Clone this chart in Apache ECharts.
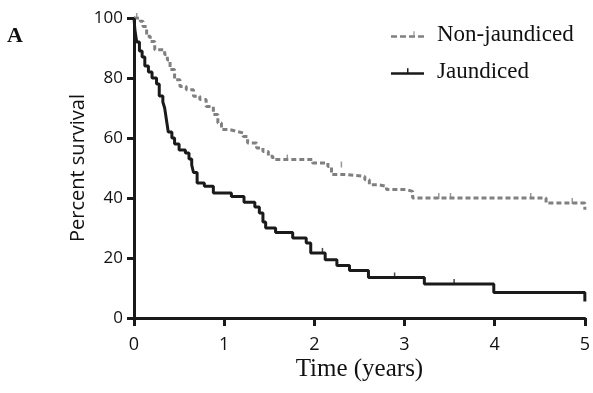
<!DOCTYPE html>
<html>
<head>
<meta charset="utf-8">
<script src="https://cdn.jsdelivr.net/npm/echarts@6/dist/echarts.min.js"></script>
<style>
  html, body { margin: 0; padding: 0; background: #fff; }
  #chart { width: 593px; height: 393px; }
</style>
</head>
<body>
<div id="chart"></div>
<script>
// Kaplan-Meier steps: time (years) and survival (%) after each drop
const jaundicedTime = [0, 0.01, 0.03, 0.06, 0.09, 0.12, 0.16, 0.2, 0.25, 0.28, 0.32, 0.34, 0.36, 0.38, 0.42, 0.45, 0.5, 0.57, 0.61, 0.64, 0.66, 0.7, 0.78, 0.88, 1.08, 1.22, 1.34, 1.39, 1.43, 1.46, 1.57, 1.76, 1.91, 1.96, 2.12, 2.25, 2.39, 2.6, 3.22, 3.99, 5.0, 5.0];
const jaundicedSurv = [100, 96, 92, 89, 87, 84, 82, 80, 78, 74, 72, 70, 66, 62, 60, 58, 56, 55, 53, 51, 48.5, 45, 43.9, 41.7, 40.5, 38.6, 37, 35, 32, 30, 28.5, 26.7, 25, 21.7, 19.4, 17.5, 15.8, 13.5, 11.3, 8.5, 8.5, 5.5];
const nonJaundicedTime = [0, 0.07, 0.1, 0.14, 0.18, 0.23, 0.34, 0.37, 0.4, 0.45, 0.51, 0.58, 0.66, 0.73, 0.8, 0.88, 0.93, 0.97, 1.06, 1.14, 1.21, 1.26, 1.36, 1.43, 1.49, 1.54, 1.98, 2.15, 2.19, 2.35, 2.56, 2.61, 2.72, 2.8, 3.02, 3.09, 4.57, 5.0, 5.0];
const nonJaundicedSurv = [100, 98.9, 97.2, 93.9, 92.2, 89.4, 87.8, 86, 82.8, 79.4, 77.2, 76.1, 73.9, 72.8, 70.5, 67.8, 65, 62.8, 62.2, 61.7, 60.5, 58.3, 56.7, 55.5, 53.9, 52.8, 51.7, 50.5, 47.8, 47.2, 46.1, 44.4, 43.9, 42.8, 42.2, 40, 38.3, 38.3, 36.1];
// censoring ticks
const jaundicedCensorTime = [2.09, 2.89, 3.55];
const jaundicedCensorSurv = [21.7, 13.5, 11.3];
const nonJaundicedCensorTime = [0.03, 1.7, 2.3, 3.38, 3.51, 4.4, 4.86];
const nonJaundicedCensorSurv = [100, 52.8, 50.5, 40, 40, 40, 38.3];
const xTicks = [0, 1, 2, 3, 4, 5];

const zip = (a, b) => a.map((t, i) => [t, b[i]]);

// legend icons: solid line with censor tick / dashed line
const solidIcon = 'path://M0,5H33V7.5H0Z M16,1H17.5V5H16Z';
const dashedIcon = 'path://M0,5H6V7.5H0Z M9,5H15V7.5H9Z M18,5H24V7.5H18Z M27,5H33V7.5H27Z M22.5,1H23.5V5H22.5Z';

const chart = echarts.init(document.getElementById('chart'));

const option = {
  animation: false,
  grid: { left: 134, right: 7, top: 18, bottom: 75 },
  legend: {
    top: 18,
    left: 386,
    orient: 'vertical',
    itemGap: 14,
    itemWidth: 33,
    itemHeight: 7,
    textStyle: {
      fontFamily: 'Liberation Serif',
      fontSize: 23,
      color: '#111',
      padding: [0, 0, 0, 8],
    },
    data: [
      { name: 'Non-jaundiced', icon: dashedIcon },
      { name: 'Jaundiced', icon: solidIcon },
    ],
  },
  graphic: [
    {
      type: 'text',
      left: 7,
      top: 25,
      style: { text: 'A', font: 'bold 22px "Liberation Serif"', fill: '#111' },
    },
  ],
  xAxis: {
    type: 'value',
    min: 0,
    max: 5,
    interval: 1,
    name: 'Time (years)',
    nameLocation: 'middle',
    nameGap: 39,
    nameMoveOverlap: false,
    nameTextStyle: { fontFamily: 'Liberation Serif', fontSize: 25, color: '#111' },
    axisLine: { lineStyle: { color: '#1a1a1a', width: 3 } },
    axisTick: { length: 8, lineStyle: { color: '#1a1a1a', width: 3 } },
    axisLabel: {
      fontFamily: 'Open Sans',
      fontSize: 18,
      color: '#111',
      margin: 18,
      formatter: (v) => (xTicks.includes(v) ? String(v) : ''),
    },
    splitLine: { show: false },
  },
  yAxis: {
    type: 'value',
    min: 0,
    max: 100,
    interval: 20,
    name: 'Percent survival',
    nameLocation: 'middle',
    nameGap: 46,
    nameMoveOverlap: false,
    nameTextStyle: { fontFamily: 'Open Sans', fontSize: 20, color: '#111' },
    axisLine: { show: true, lineStyle: { color: '#1a1a1a', width: 3 } },
    axisTick: { show: true, length: 7, lineStyle: { color: '#1a1a1a', width: 3 } },
    axisLabel: { fontFamily: 'Open Sans', fontSize: 17, color: '#111', margin: 11 },
    splitLine: { show: false },
  },
  series: [
    {
      name: 'Non-jaundiced',
      type: 'line',
      step: 'end',
      symbol: 'none',
      data: zip(nonJaundicedTime, nonJaundicedSurv),
      lineStyle: { color: '#808080', width: 3, type: [5, 3] },
      itemStyle: { color: '#808080' },
      z: 2,
    },
    {
      name: 'Jaundiced',
      type: 'line',
      step: 'end',
      symbol: 'none',
      data: zip(jaundicedTime, jaundicedSurv),
      lineStyle: { color: '#1a1a1a', width: 3 },
      itemStyle: { color: '#1a1a1a' },
      z: 3,
    },
    {
      name: 'Non-jaundiced censored',
      type: 'scatter',
      symbol: 'rect',
      symbolSize: [1.5, 6],
      symbolOffset: [0, -2],
      data: zip(nonJaundicedCensorTime, nonJaundicedCensorSurv),
      itemStyle: { color: '#808080' },
      z: 2,
    },
    {
      name: 'Jaundiced censored',
      type: 'scatter',
      symbol: 'rect',
      symbolSize: [1.5, 6],
      symbolOffset: [0, -2],
      data: zip(jaundicedCensorTime, jaundicedCensorSurv),
      itemStyle: { color: '#1a1a1a' },
      z: 3,
    },
  ],
};

chart.setOption(option);
</script>
</body>
</html>
